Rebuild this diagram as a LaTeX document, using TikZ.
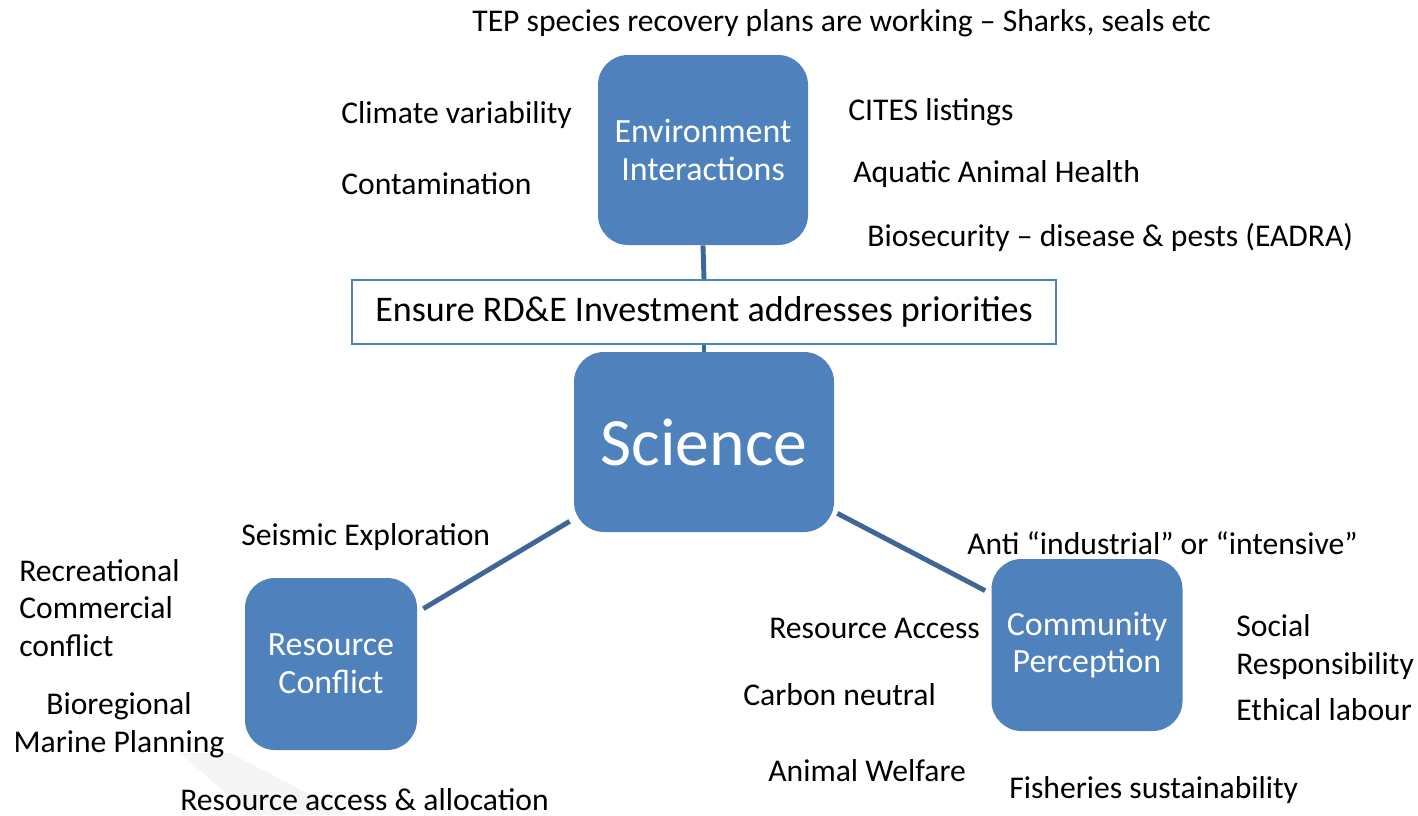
\documentclass[tikz,border=0pt]{standalone}
\usepackage{fontspec}
\setmainfont{Carlito}
\usepackage{tikz}
\usetikzlibrary{shapes.geometric, arrows}
\usetikzlibrary{positioning}
\definecolor{boxblue}{HTML}{4F81BD}
\definecolor{linkblue}{HTML}{3E6696}
\tikzstyle{topic} = [rectangle, rounded corners=0.6cm, text centered, draw=none, fill=boxblue, text=white, font=\fontsize{19.3}{21.5}\selectfont, align=center]
\tikzstyle{banner} = [rectangle, minimum width=14.08cm, minimum height=1.28cm, text centered, draw=boxblue, line width=1pt, fill=white, font=\fontsize{20.5}{24}\selectfont]
\tikzstyle{note} = [inner sep=0pt, anchor=west, align=left, font=\fontsize{18}{21.5}\selectfont]
\tikzstyle{link} = [draw=linkblue, line width=2.8pt]

\begin{document}
\begin{tikzpicture}
 \useasboundingbox (0,0) rectangle (28.36,-16.30);
 % faint shadow under the left box
 \fill[black!4] (3.6,-15.06) -- (4.6,-15.06) -- (7.0,-16.30) -- (5.0,-16.30) -- cycle;
 \node[topic, minimum width=5.2cm, minimum height=3.6cm, font=\fontsize{38.5}{42}\selectfont] (science) at (14.08,-8.84)
              {Science};
 \node[banner] (ensure) at (science) [xshift=0cm,yshift=2.6cm]
              {Ensure RD\&E Investment addresses priorities};
 \node[topic, minimum width=4.2cm, minimum height=3.8cm] (env) at (science) [xshift=-0.02cm,yshift=5.84cm]
              {Environment\\Interactions};
 \node[topic, minimum width=3.44cm, minimum height=3.44cm] (rescon) at (science) [xshift=-7.46cm,yshift=-4.44cm]
              {Resource\\Conflict};
 \node[topic, minimum width=3.82cm, minimum height=3.44cm] (commper) at (science) [xshift=7.66cm,yshift=-4.06cm]
              {Community\\Perception};
% notes round the environment box
 \node[note] (tep) at (env) [xshift=-4.62cm,yshift=2.54cm]
              {TEP species recovery plans are working – Sharks, seals etc};
 \node[note] (climate) at (env) [xshift=-7.24cm,yshift=0.70cm]
              {Climate variability};
 \node[note] (contam) at (env) [xshift=-7.24cm,yshift=-0.68cm]
              {Contamination};
 \node[note] (cites) at (env) [xshift=2.90cm,yshift=0.76cm]
              {CITES listings};
 \node[note] (health) at (env) [xshift=3.00cm,yshift=-0.48cm]
              {Aquatic Animal Health};
 \node[note] (biosec) at (env) [xshift=3.28cm,yshift=-1.74cm]
              {Biosecurity – disease \& pests (EADRA)};
% notes round the resource box
 \node[note] (seismic) at (rescon) [xshift=-1.80cm,yshift=2.54cm]
              {Seismic Exploration};
 \node[note] (reccom) at (rescon) [xshift=-6.24cm,yshift=1.12cm]
              {Recreational\\Commercial\\conflict};
 \node[note, anchor=center, align=center] (biomar) at (rescon) [xshift=-4.24cm,yshift=-1.22cm]
              {Bioregional\\Marine Planning};
 \node[note] (alloc) at (rescon) [xshift=-3.02cm,yshift=-2.72cm]
              {Resource access \& allocation};
% notes round the community box
 \node[note] (anti) at (commper) [xshift=-2.40cm,yshift=2.04cm]
              {Anti “industrial” or “intensive”};
 \node[note] (access) at (commper) [xshift=-6.36cm,yshift=0.34cm]
              {Resource Access};
 \node[note] (carbon) at (commper) [xshift=-6.88cm,yshift=-1.00cm]
              {Carbon neutral};
 \node[note] (welfare) at (commper) [xshift=-6.38cm,yshift=-2.52cm]
              {Animal Welfare};
 \node[note] (fish) at (commper) [xshift=-1.56cm,yshift=-2.90cm]
              {Fisheries sustainability};
 \node[note] (social) at (commper) [xshift=2.98cm,yshift=-0.04cm]
              {Social\\Responsibility};
 \node[note] (ethic) at (commper) [xshift=2.98cm,yshift=-1.30cm]
              {Ethical labour};
% links
 \draw[link] (env.south) -- (ensure.north);
 \draw[link] (ensure.south) -- (science.north);
 \draw[link] ([xshift=-0.08cm,yshift=0.22cm]{science.south west})
             -- ([xshift=0.12cm,yshift=-0.62cm]{rescon.north east});
 \draw[link] ([xshift=0.06cm,yshift=0.38cm]{science.south east})
             -- ([xshift=-0.12cm,yshift=-0.64cm]{commper.north west});
\end{tikzpicture}
\end{document}
